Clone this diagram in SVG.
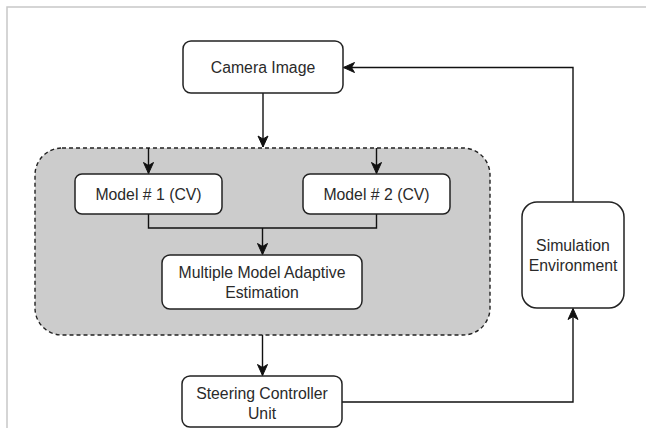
<svg xmlns="http://www.w3.org/2000/svg" width="646" height="428" viewBox="0 0 646 428">
<style>
.box{fill:#ffffff;stroke:#222222;stroke-width:1.5}
.lbl{font-family:"Liberation Sans",Arial,sans-serif;font-size:15.8px;fill:#2a2a2a;text-anchor:middle;dominant-baseline:central}
.conn{fill:none;stroke:#111111;stroke-width:1.4}
</style>
<defs>
<marker id="arr" markerUnits="userSpaceOnUse" markerWidth="14" markerHeight="14" viewBox="0 0 14 14" refX="12" refY="7" orient="auto">
<path d="M1,2 L12,7 L1,12 L4,7 Z" fill="#111111" stroke="#111111" stroke-width="1"/>
</marker>
</defs>
<rect width="646" height="428" fill="#ffffff"/>
<path d="M7,428 V7 H646" fill="none" stroke="#c8c8c8" stroke-width="1.5"/>
<g id="container">
<rect x="35" y="148" width="455" height="187" rx="27" ry="27" fill="#cccccc" stroke="#222222" stroke-width="1.4" stroke-dasharray="4 3"/>
</g>
<g id="connectors">
<path class="conn" d="M263,93 V147" marker-end="url(#arr)"/>
<path class="conn" d="M148.5,148 V173.5" marker-end="url(#arr)"/>
<path class="conn" d="M376.5,148 V173.5" marker-end="url(#arr)"/>
<path class="conn" d="M148.5,214 V228 H376.5 V214"/>
<path class="conn" d="M262.5,228 V254.5" marker-end="url(#arr)"/>
<path class="conn" d="M262.5,335 V375.5" marker-end="url(#arr)"/>
<path class="conn" d="M342,402 H573 V308.5" marker-end="url(#arr)"/>
<path class="conn" d="M573,202 V67.5 H343.5" marker-end="url(#arr)"/>
</g>
<g id="camera">
<rect class="box" x="183" y="41" width="160" height="52" rx="8"/>
<text class="lbl" x="263" y="67">Camera Image</text>
</g>
<g id="model1">
<rect class="box" x="75" y="174" width="147" height="40" rx="7"/>
<text class="lbl" x="148.5" y="194.5">Model # 1 (CV)</text>
</g>
<g id="model2">
<rect class="box" x="303" y="174" width="147" height="40" rx="7"/>
<text class="lbl" x="376.5" y="194.5">Model # 2 (CV)</text>
</g>
<g id="mmae">
<rect class="box" x="162" y="255" width="200" height="54" rx="8"/>
<text class="lbl" x="262" y="272">Multiple Model Adaptive</text>
<text class="lbl" x="262" y="292">Estimation</text>
</g>
<g id="steering">
<rect class="box" x="182" y="376" width="160" height="51" rx="8"/>
<text class="lbl" x="262" y="393">Steering Controller</text>
<text class="lbl" x="262" y="413">Unit</text>
</g>
<g id="simulation">
<rect class="box" x="522" y="202" width="102" height="106" rx="15"/>
<text class="lbl" x="573" y="245">Simulation</text>
<text class="lbl" x="573" y="265">Environment</text>
</g>
</svg>
